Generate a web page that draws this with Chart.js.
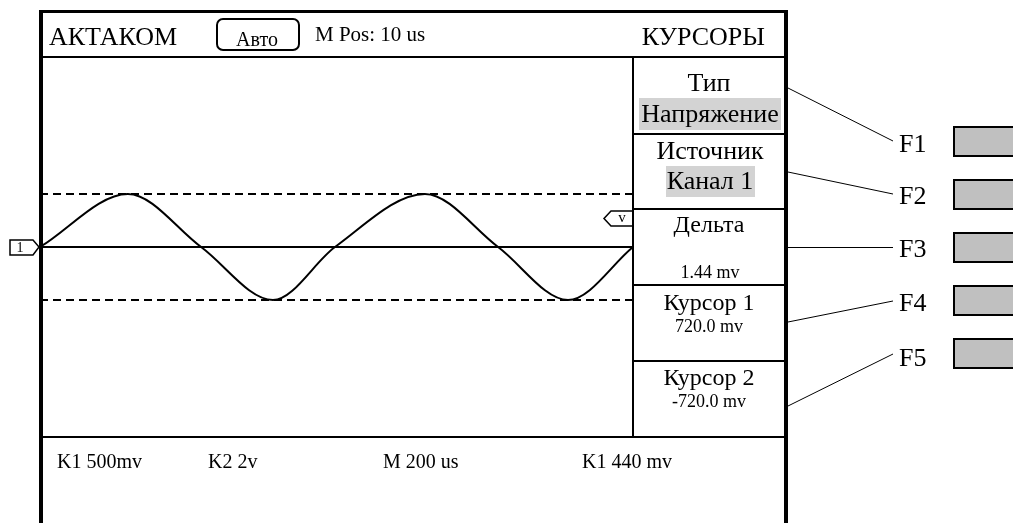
<!DOCTYPE html>
<html>
<head>
<meta charset="utf-8">
<script src="https://cdn.jsdelivr.net/npm/chart.js@4"></script>
<style>
  html, body { margin: 0; padding: 0; background: #fff; }
  #wrap { position: relative; width: 1013px; height: 523px; overflow: hidden; font-family: "Liberation Serif", "Times New Roman", serif; color: #000; }
  #scope { position: absolute; left: 0; top: 0; }
  .t { position: absolute; white-space: nowrap; }
  .hl { position: absolute; background: #d3d3d3; }
</style>
</head>
<body>
<div id="wrap">
  <div class="hl" style="left:639px;top:98px;width:142px;height:32px"></div>
  <div class="hl" style="left:666px;top:166px;width:89px;height:31px"></div>
  <canvas id="scope" width="1013" height="523"></canvas>
</div>
<script>
// waveform, time in us, voltage in mV
const timeUs = [0, 356, 652, 943, 1194, 1558, 1854, 2137, 2400];
const signalMv = [0, 720, 0, -720, 0, 720, 0, -720, 0];
const cursorMv = [720, -720];
const screenSpanUs = 2400;
const screenHalfMv = 2581;

const fKeys = ['F1', 'F2', 'F3', 'F4', 'F5'];
const bottomLabels = ['K1 500mv', 'K2 2v', 'M 200 us', 'K1 440 mv'];

const wrap = document.getElementById('wrap');

// place text by its baseline
function label(text, x, base, size, align) {
  const d = document.createElement('div');
  d.className = 't';
  d.textContent = text;
  d.style.fontSize = size + 'px';
  d.style.lineHeight = size + 'px';
  d.style.top = (base - 0.8375 * size) + 'px';
  if (align === 'center') {
    d.style.left = (x - 200) + 'px';
    d.style.width = '400px';
    d.style.textAlign = 'center';
  } else if (align === 'right') {
    d.style.right = (1013 - x) + 'px';
  } else {
    d.style.left = x + 'px';
  }
  wrap.appendChild(d);
}

label('АКТАКОМ', 49, 46, 26);
label('Авто', 257, 46, 20, 'center');
label('M Pos: 10 us', 315, 42, 21);
label('КУРСОРЫ', 765, 46, 26, 'right');

label('Тип', 709, 92, 26, 'center');
label('Напряжение', 710, 123, 26, 'center');
label('Источник', 710, 160, 26, 'center');
label('Канал 1', 710, 190, 26, 'center');
label('Дельта', 709, 232, 24, 'center');
label('1.44 mv', 710, 278, 18, 'center');
label('Курсор 1', 709, 310, 24, 'center');
label('720.0 mv', 709, 332, 18, 'center');
label('Курсор 2', 709, 385, 24, 'center');
label('-720.0 mv', 709, 407, 18, 'center');

const fBase = [153, 205, 258, 312, 367];
fKeys.forEach((k, i) => label(k, 899, fBase[i], 26));

const bottomX = [57, 208, 383, 582];
bottomLabels.forEach((s, i) => label(s, bottomX[i], 468, 20));

label('1', 20, 253, 14, 'center');
label('v', 622, 223, 15, 'center');

function seg(ctx, x1, y1, x2, y2, w) {
  ctx.lineWidth = w;
  ctx.beginPath();
  ctx.moveTo(x1, y1);
  ctx.lineTo(x2, y2);
  ctx.stroke();
}

const screenFrame = {
  id: 'screenFrame',
  afterDraw(chart) {
    const ctx = chart.ctx;
    ctx.save();
    ctx.strokeStyle = '#000';
    // outer frame
    seg(ctx, 40, 11.5, 786, 11.5, 3);
    seg(ctx, 41, 10, 41, 523, 4);
    seg(ctx, 786, 10, 786, 523, 4);
    seg(ctx, 40, 57, 786, 57, 2);
    seg(ctx, 40, 437, 786, 437, 2);
    // menu panel
    seg(ctx, 633, 57, 633, 437, 2);
    [134, 209, 285, 361].forEach(y => seg(ctx, 633, y, 786, y, 2));
    // Auto box
    ctx.lineWidth = 2;
    ctx.beginPath();
    ctx.roundRect(217, 19, 82, 31, 6);
    ctx.stroke();
    // leader lines to F keys
    const lines = [[788, 88, 893, 141], [788, 172, 893, 194], [788, 247.5, 893, 247.5], [788, 322, 893, 301], [788, 406, 893, 354]];
    lines.forEach(l => seg(ctx, l[0], l[1], l[2], l[3], 1));
    // soft keys
    const keyTop = [127, 180, 233, 286, 339];
    keyTop.forEach(y => {
      ctx.fillStyle = '#c0c0c0';
      ctx.fillRect(954, y, 70, 29);
      ctx.lineWidth = 2;
      ctx.strokeRect(954, y, 70, 29);
    });
    // channel 1 marker
    ctx.lineWidth = 1.5;
    ctx.fillStyle = '#fff';
    ctx.beginPath();
    ctx.moveTo(10, 240); ctx.lineTo(33, 240); ctx.lineTo(39, 247);
    ctx.lineTo(33, 255); ctx.lineTo(10, 255); ctx.closePath();
    ctx.fill(); ctx.stroke();
    // cursor marker
    ctx.beginPath();
    ctx.moveTo(632, 211); ctx.lineTo(611, 211); ctx.lineTo(604, 218.5);
    ctx.lineTo(611, 226); ctx.lineTo(632, 226);
    ctx.stroke();
    ctx.restore();
  }
};

const wave = timeUs.map((t, i) => ({ x: t, y: signalMv[i] }));
const flat = v => [{ x: 0, y: v }, { x: screenSpanUs, y: v }];

new Chart(document.getElementById('scope'), {
  type: 'line',
  data: {
    datasets: [
      { data: wave, borderColor: '#000', borderWidth: 2, pointRadius: 0, cubicInterpolationMode: 'monotone' },
      { data: flat(0), borderColor: '#000', borderWidth: 2, pointRadius: 0 },
      { data: flat(cursorMv[0]), borderColor: '#000', borderWidth: 2, borderDash: [8, 5], pointRadius: 0 },
      { data: flat(cursorMv[1]), borderColor: '#000', borderWidth: 2, borderDash: [8, 5], pointRadius: 0 },
    ],
  },
  options: {
    responsive: false,
    animation: false,
    layout: { padding: { left: 40, top: 57, right: 380, bottom: 86 } },
    plugins: { legend: { display: false }, tooltip: { enabled: false } },
    scales: {
      x: { type: 'linear', min: 0, max: screenSpanUs, display: false },
      y: { min: -screenHalfMv, max: screenHalfMv, display: false },
    },
  },
  plugins: [screenFrame],
});
</script>
</body>
</html>
